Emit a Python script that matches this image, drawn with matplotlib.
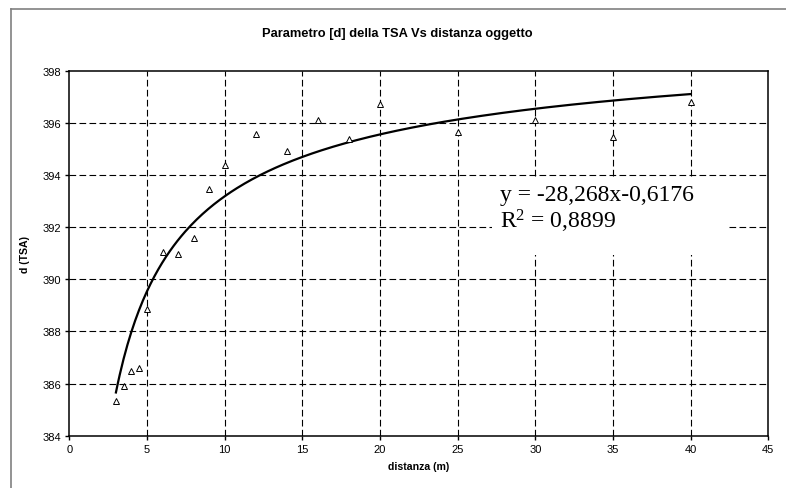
import numpy as np
from matplotlib import pyplot as plt
from matplotlib.lines import Line2D
from matplotlib.patches import Rectangle

plt.rcParams['font.family'] = ['Liberation Sans', 'DejaVu Sans']
plt.rcParams['mathtext.fontset'] = 'custom'
plt.rcParams['mathtext.rm'] = 'Liberation Serif'
plt.rcParams['mathtext.it'] = 'Liberation Serif:italic'

# measured points
distanza = [3, 3.5, 4, 4.5, 5, 6, 7, 8, 9, 10, 12, 14, 16, 18, 20, 25, 30, 35, 40]
d_tsa = [385.33, 385.9, 386.5, 386.6, 388.87, 391.05, 390.98, 391.59, 393.46, 394.38,
         395.56, 394.92, 396.09, 395.38, 396.74, 395.63, 396.12, 395.46, 396.8]

# trend line (from the equation shown on the chart)
trend_coef = -28.268
trend_exp = -0.6176
trend_offset = 400.0
trend_range = (3, 40)

xticks = [0, 5, 10, 15, 20, 25, 30, 35, 40, 45]
yticks = [384, 386, 388, 390, 392, 394, 396, 398]

fig = plt.figure(figsize=(7.86, 4.89), dpi=100)
ax = fig.add_axes([0.0882, 0.107, 0.8893, 0.7464])

for v in xticks[1:-1]:
    ax.axvline(v, color='black', lw=0.8, dashes=(6, 3), zorder=1)
for v in yticks[1:-1]:
    ax.axhline(v, color='black', lw=0.8, dashes=(6, 3), zorder=1)

xs = np.linspace(trend_range[0], trend_range[1], 300)
ax.plot(xs, trend_offset + trend_coef * xs**trend_exp, color='black', lw=1.6, zorder=2)

ax.plot(distanza, d_tsa, linestyle='none', marker='^', markersize=4.5,
        markerfacecolor='white', markeredgecolor='black', markeredgewidth=0.7, zorder=3)

ax.set_xlim(0, 45)
ax.set_ylim(384, 398)
ax.set_xticks(xticks)
ax.set_yticks(yticks)
ax.tick_params(direction='out', length=3, width=1, labelsize=8, pad=3)
for s in ax.spines.values():
    s.set_linewidth(1.1)
    s.set_zorder(4)

ax.set_xlabel('distanza (m)', fontsize=7.6, fontweight='bold', labelpad=5)
ax.set_ylabel('d (TSA)', fontsize=7.6, fontweight='bold', labelpad=9)
fig.text(0.505, 0.93, 'Parametro [d] della TSA Vs distanza oggetto',
         ha='center', va='center', fontsize=9.3, fontweight='bold')

# trendline label with white background box
ax.add_patch(Rectangle((27.2, 390.93), 15.2, 2.95, facecolor='white', edgecolor='none', zorder=1.5))
ax.text(27.7, 393.05, 'y = -28,268x-0,6176', fontsize=17, family='Liberation Serif',
        va='baseline', ha='left', zorder=5)
ax.text(27.7, 392.0, 'R$^{2}$ = 0,8899', fontsize=17, family='Liberation Serif',
        va='baseline', ha='left', zorder=5)

# outer chart border (only top and left visible)
fig.add_artist(Line2D([11 / 786, 11 / 786], [0, 1 - 10 / 489], color='#808080', lw=1.2))
fig.add_artist(Line2D([11 / 786, 1], [1 - 10 / 489, 1 - 10 / 489], color='#808080', lw=1.2))

fig.savefig('out.png', dpi=100)
